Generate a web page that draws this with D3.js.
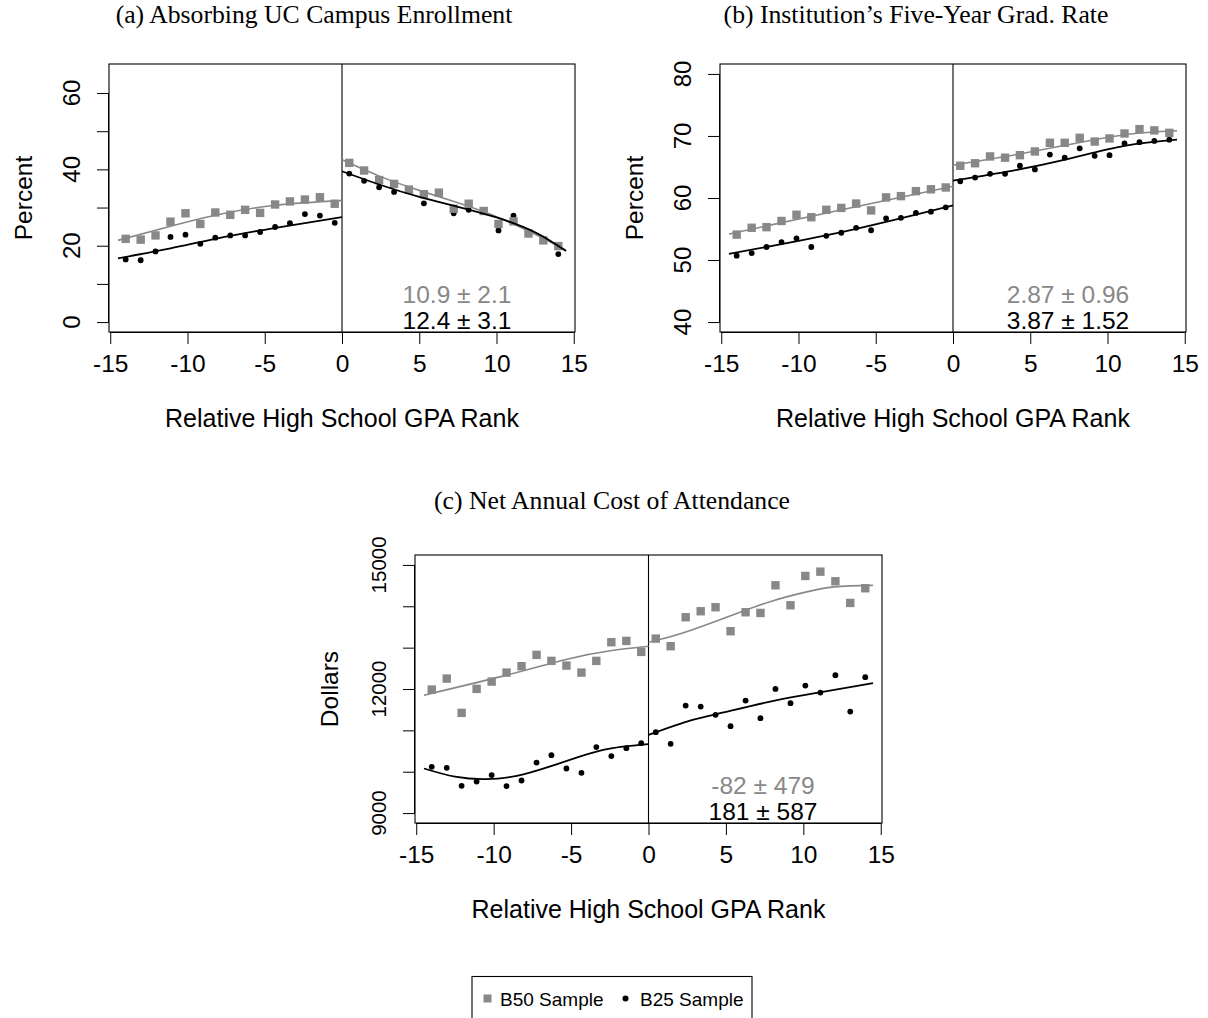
<!DOCTYPE html>
<html><head><meta charset="utf-8">
<script src="https://cdn.jsdelivr.net/npm/d3@7/dist/d3.min.js"></script>
<style>body{margin:0;background:#fff}svg{display:block}</style>
</head><body>
<svg id="chart" width="1208" height="1018"></svg>
<script>
// ---------- data ----------
const binsLeft  = [-14.00,-13.03,-12.07,-11.10,-10.13,-9.17,-8.20,-7.23,-6.27,-5.30,-4.33,-3.37,-2.40,-1.43,-0.47];
const binsRight = [0.47,1.43,2.40,3.37,4.33,5.30,6.27,7.23,8.20,9.17,10.13,11.10,12.07,13.03,14.00];
const xTicks = [-15,-10,-5,0,5,10,15];

// (a) Absorbing UC campus enrollment (percent)
const aB50Left  = [21.8,21.6,22.7,26.3,28.5,25.7,28.7,28.1,29.4,28.6,30.8,31.6,32.1,32.7,31.0];
const aB25Left  = [16.4,16.2,18.5,22.3,22.9,20.5,22.1,22.7,22.7,23.6,24.9,25.9,28.3,27.9,26.0];
const aB50Right = [41.7,39.7,37.2,36.2,34.7,33.5,33.9,29.7,31.0,29.1,25.7,26.4,23.2,21.4,19.9];
const aB25Right = [38.9,37.0,35.3,34.1,34.4,31.1,33.5,28.5,29.4,29.0,24.0,27.9,23.0,21.2,17.8];
const aFitXLeft  = [-14.5,-11.1,-8.2,-4.3,0];
const aFitB50Left = [21.4,25.1,28.0,30.6,31.8];
const aFitB25Left = [16.7,19.3,21.8,24.7,27.5];
const aFitXRight = [0,2.5,5,7.5,10,12.5,14.5];
const aFitB50Right = [42.5,38.1,34.5,31.25,27.6,23.0,18.8];
const aFitB25Right = [39.5,35.9,32.8,30.2,27.4,23.5,18.6];
const aYTicks = [0,10,20,30,40,50,60];
const aYLabels = [0,20,40,60];
const aEstimates = ["10.9 \u00b1 2.1","12.4 \u00b1 3.1"];

// (b) Institution's five-year graduation rate (percent)
const bB50Left  = [54.1,55.2,55.3,56.3,57.3,56.9,58.1,58.4,59.1,58.0,60.1,60.3,61.1,61.4,61.7];
const bB25Left  = [50.7,51.1,52.1,52.9,53.5,52.1,53.9,54.4,55.2,54.8,56.7,56.8,57.6,57.8,58.5];
const bB50Right = [65.2,65.6,66.7,66.5,66.9,67.5,68.9,68.9,69.7,69.1,69.6,70.4,71.1,70.9,70.5];
const bB25Right = [62.7,63.3,63.9,63.9,65.2,64.6,67.0,66.5,68.0,66.8,66.9,68.8,69.0,69.2,69.4];
const bFitXLeft = [-14.5,-7.2,0];
const bFitB50Left = [54.2,58.1,61.9];
const bFitB25Left = [51.0,54.5,58.8];
const bFitXRight = [0,3.4,7.26,11.1,14.5];
const bFitB50Right = [65.3,66.7,68.5,70.2,70.85];
const bFitB25Right = [62.8,64.2,66.2,68.4,69.4];
const bYTicks = [40,50,60,70,80];
const bYLabels = [40,50,60,70,80];
const bEstimates = ["2.87 \u00b1 0.96","3.87 \u00b1 1.52"];

// (c) Net annual cost of attendance (dollars)
const cB50Left  = [11986,12252,11423,12003,12179,12397,12552,12825,12680,12566,12397,12680,13131,13163,12897];
const cB25Left  = [10119,10094,9660,9763,9918,9652,9788,10222,10401,10078,9974,10595,10377,10570,10691];
const cB50Right = [13218,13035,13735,13880,13977,13397,13856,13839,14508,14025,14733,14837,14605,14081,14436];
const cB25Right = [10957,10674,11600,11575,11375,11102,11720,11295,12003,11658,12083,11914,12334,11455,12286];
const cFitXLeftB50 = [-14.5,-9.1,-5.26,-2.37,0];
const cFitB50Left = [11851,12341,12721,12930,13035];
const cFitXLeftB25 = [-14.5,-12.5,-10.5,-8.5,-6.5,-4.5,-2.5,0];
const cFitB25Left = [10078,9880,9820,9900,10110,10360,10560,10667];
const cFitXRightB50 = [0,2,4,6,8,10,12,14.5];
const cFitB50Right = [13131,13330,13590,13870,14130,14330,14470,14505];
const cFitXRightB25 = [0,2.48,4.4,8.15,11.16,14.5];
const cFitB25Right = [10892,11213,11392,11720,11923,12141];
const cYTicks = [9000,10000,11000,12000,13000,14000,15000];
const cYLabels = [9000,12000,15000];
const cEstimates = ["-82 \u00b1 479","181 \u00b1 587"];

const titles = ["(a) Absorbing UC Campus Enrollment","(b) Institution\u2019s Five-Year Grad. Rate","(c) Net Annual Cost of Attendance"];
const yTitles = ["Percent","Percent","Dollars"];
const xTitle = "Relative High School GPA Rank";
const legendLabels = ["B50 Sample","B25 Sample"];

// ---------- drawing ----------
const GRAY = "#888888";
const SANS = "'Liberation Sans', Arial, Helvetica, sans-serif";
const SERIF = "'Liberation Serif', 'Times New Roman', serif";
const svg = d3.select("#chart");

const zip = (xs, ys) => xs.map((x,i)=>[x, ys[i]]);

const panels = [
  {box:[109,575,64,332], ydom:[-2.6,67.6], yTicks:aYTicks, yLabels:aYLabels, ylabSize:24,
   title:titles[0], titleX:314, titleY:23, ytitle:yTitles[0], est:aEstimates,
   b50:[zip(binsLeft,aB50Left),zip(binsRight,aB50Right)], b25:[zip(binsLeft,aB25Left),zip(binsRight,aB25Right)],
   fits50:[zip(aFitXLeft,aFitB50Left),zip(aFitXRight,aFitB50Right)], fits25:[zip(aFitXLeft,aFitB25Left),zip(aFitXRight,aFitB25Right)]},
  {box:[720,1186,64,332], ydom:[38.4,81.6], yTicks:bYTicks, yLabels:bYLabels, ylabSize:24,
   title:titles[1], titleX:916, titleY:23, ytitle:yTitles[1], est:bEstimates,
   b50:[zip(binsLeft,bB50Left),zip(binsRight,bB50Right)], b25:[zip(binsLeft,bB25Left),zip(binsRight,bB25Right)],
   fits50:[zip(bFitXLeft,bFitB50Left),zip(bFitXRight,bFitB50Right)], fits25:[zip(bFitXLeft,bFitB25Left),zip(bFitXRight,bFitB25Right)]},
  {box:[415,882,555,823], ydom:[8760,15240], yTicks:cYTicks, yLabels:cYLabels, ylabSize:20.5,
   title:titles[2], titleX:612, titleY:509, ytitle:yTitles[2], est:cEstimates,
   b50:[zip(binsLeft,cB50Left),zip(binsRight,cB50Right)], b25:[zip(binsLeft,cB25Left),zip(binsRight,cB25Right)],
   fits50:[zip(cFitXLeftB50,cFitB50Left),zip(cFitXRightB50,cFitB50Right)], fits25:[zip(cFitXLeftB25,cFitB25Left),zip(cFitXRightB25,cFitB25Right)]}
];

panels.forEach(p => {
  const [x0,x1,y0,y1] = p.box;
  const x = d3.scaleLinear().domain([-15.08,15.08]).range([x0,x1]);
  const y = d3.scaleLinear().domain(p.ydom).range([y1,y0]);
  const g = svg.append("g");

  // title
  svg.append("text").attr("x",p.titleX).attr("y",p.titleY).attr("text-anchor","middle")
    .attr("font-family",SERIF).attr("font-size",25.7).attr("fill","#000").text(p.title);

  // x axis
  const xa = g.append("g").attr("transform",`translate(0,${y1})`)
    .call(d3.axisBottom(x).tickValues(xTicks).tickSize(12).tickPadding(11).tickFormat(d3.format("d")));
  xa.select(".domain").attr("d",`M${x(-15)},0.5H${x(15)}`).attr("stroke","#000");
  xa.selectAll(".tick line").attr("stroke","#000").attr("y1",0);
  xa.selectAll(".tick text").attr("font-family",SANS).attr("font-size",24.5).attr("fill","#000")
    .text(d => d<0 ? "-"+Math.abs(d) : d);

  // y axis
  const ya = g.append("g").attr("transform",`translate(${x0},0)`)
    .call(d3.axisLeft(y).tickValues(p.yTicks).tickSize(12).tickFormat(""));
  const ymin = d3.min(p.yTicks), ymax = d3.max(p.yTicks);
  ya.select(".domain").attr("d",`M-0.5,${y(ymin)}V${y(ymax)}`).attr("stroke","#000");
  ya.selectAll(".tick line").attr("stroke","#000");
  g.selectAll(".ylab").data(p.yLabels).join("text")
    .attr("transform", d => `translate(${x0-29},${y(d)}) rotate(-90)`)
    .attr("text-anchor","middle").attr("font-family",SANS).attr("font-size",p.ylabSize).attr("fill","#000")
    .text(d => d);

  // axis titles
  g.append("text").attr("x",(x(-15)+x(15))/2).attr("y",y1+95).attr("text-anchor","middle")
    .attr("font-family",SANS).attr("font-size",25).attr("fill","#000").text(xTitle);
  g.append("text").attr("transform",`translate(${x0-77},${(y0+y1)/2}) rotate(-90)`)
    .attr("text-anchor","middle").attr("font-family",SANS).attr("font-size",24.5).attr("fill","#000").text(p.ytitle);

  // box and cutoff
  g.append("rect").attr("x",x0).attr("y",y0).attr("width",x1-x0).attr("height",y1-y0)
    .attr("fill","none").attr("stroke","#000").attr("stroke-width",1.1);
  g.append("line").attr("x1",x(0)).attr("x2",x(0)).attr("y1",y0).attr("y2",y1)
    .attr("stroke","#000").attr("stroke-width",1.1);

  // points: B25 dots first, then B50 squares
  p.b25.forEach(side => {
    g.selectAll(null).data(side).join("circle")
      .attr("cx",d=>x(d[0])).attr("cy",d=>y(d[1])).attr("r",2.9).attr("fill","#000");
  });
  p.b50.forEach(side => {
    g.selectAll(null).data(side).join("rect")
      .attr("x",d=>x(d[0])-4.2).attr("y",d=>y(d[1])-4.2).attr("width",8.4).attr("height",8.4).attr("fill",GRAY);
  });

  // fitted lines
  const line = d3.line().x(d=>x(d[0])).y(d=>y(d[1])).curve(d3.curveNatural);
  p.fits50.forEach(f => g.append("path").attr("d",line(f)).attr("fill","none").attr("stroke",GRAY).attr("stroke-width",1.6));
  p.fits25.forEach(f => g.append("path").attr("d",line(f)).attr("fill","none").attr("stroke","#000").attr("stroke-width",1.8));

  // estimates
  g.append("text").attr("x",x0+348).attr("y",y1-29.5).attr("text-anchor","middle")
    .attr("font-family",SANS).attr("font-size",24.5).attr("fill",GRAY).text(p.est[0]);
  g.append("text").attr("x",x0+348).attr("y",y1-3).attr("text-anchor","middle")
    .attr("font-family",SANS).attr("font-size",24.5).attr("fill","#000").text(p.est[1]);
});

// legend
const lg = svg.append("g");
lg.append("rect").attr("x",472).attr("y",976.5).attr("width",280).attr("height",46)
  .attr("fill","#fff").attr("stroke","#000").attr("stroke-width",1.1);
lg.append("rect").attr("x",483.5).attr("y",994.5).attr("width",8).attr("height",8).attr("fill",GRAY);
lg.append("text").attr("x",500).attr("y",1005.5).attr("font-family",SANS).attr("font-size",19).attr("fill","#000").text(legendLabels[0]);
lg.append("circle").attr("cx",625.5).attr("cy",998.5).attr("r",3).attr("fill","#000");
lg.append("text").attr("x",640).attr("y",1005.5).attr("font-family",SANS).attr("font-size",19).attr("fill","#000").text(legendLabels[1]);
</script>
</body></html>
